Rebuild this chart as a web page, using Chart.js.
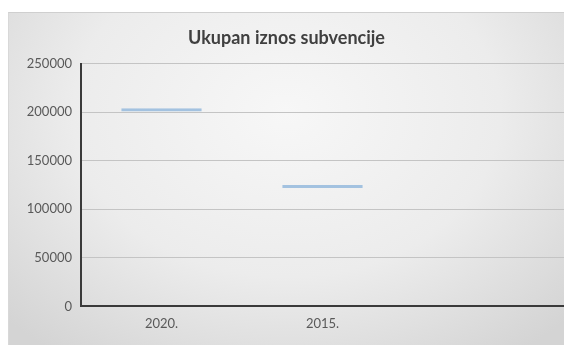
<!DOCTYPE html>
<html>
<head>
<meta charset="utf-8">
<script src="https://cdn.jsdelivr.net/npm/chart.js@4/dist/chart.umd.min.js"></script>
<style>
  html, body { margin: 0; padding: 0; background: #ffffff; }
  #frame {
    position: absolute; left: 8px; top: 12px; width: 556px; height: 333px;
    background: radial-gradient(ellipse 70% 90% at 50% 30%, #f7f7f7 0%, #ececec 55%, #d4d4d4 100%);
    border-top: 1px solid #cfcfcf; border-left: 1px solid #d8d8d8;
    box-sizing: border-box;
  }
  canvas { display: block; }
</style>
</head>
<body>
<div id="frame"><canvas id="c" width="555" height="332"></canvas></div>
<script>
// Total subsidy amount per year
const categories = ['2020.', '2015.', ''];
const subsidyTotals = [204000, 125000, null];
const yTicks = [0, 50000, 100000, 150000, 200000, 250000];

const ctx = document.getElementById('c').getContext('2d');
new Chart(ctx, {
  type: 'bar',
  data: {
    labels: categories,
    datasets: [{
      label: 'Ukupan iznos subvencije',
      data: subsidyTotals,
      backgroundColor: 'rgba(0,0,0,0)',
      borderColor: '#a3c2e0',
      borderWidth: { top: 3, left: 0, right: 0, bottom: 0 },
      borderSkipped: false,
      barPercentage: 0.5,
      categoryPercentage: 1.0
    }]
  },
  options: {
    responsive: false,
    animation: false,
    layout: { padding: { left: 0, right: 0, top: 0, bottom: 3 } },
    plugins: {
      legend: { display: false },
      tooltip: { enabled: false },
      title: {
        display: true,
        text: 'Ukupan iznos subvencije',
        color: '#404040',
        font: { family: 'Lato', size: 18, weight: 'bold' },
        padding: { top: 14, bottom: 15 }
      }
    },
    scales: {
      x: {
        grid: { display: false, drawTicks: false },
        border: { display: true, color: '#3a3a3a', width: 2 },
        ticks: {
          color: '#595959',
          font: { family: 'Lato', size: 13 },
          padding: 10
        }
      },
      y: {
        min: 0,
        max: 250000,
        afterBuildTicks: (axis) => { axis.ticks = yTicks.map(v => ({ value: v })); },
        afterFit: (axis) => { axis.width = 72; },
        grid: { color: '#c4c4c4', lineWidth: 1, drawTicks: false },
        border: { display: true, color: '#3a3a3a', width: 2 },
        ticks: {
          color: '#595959',
          font: { family: 'Lato', size: 13 },
          padding: 9,
          callback: (v) => String(v)
        }
      }
    }
  }
});
</script>
</body>
</html>
